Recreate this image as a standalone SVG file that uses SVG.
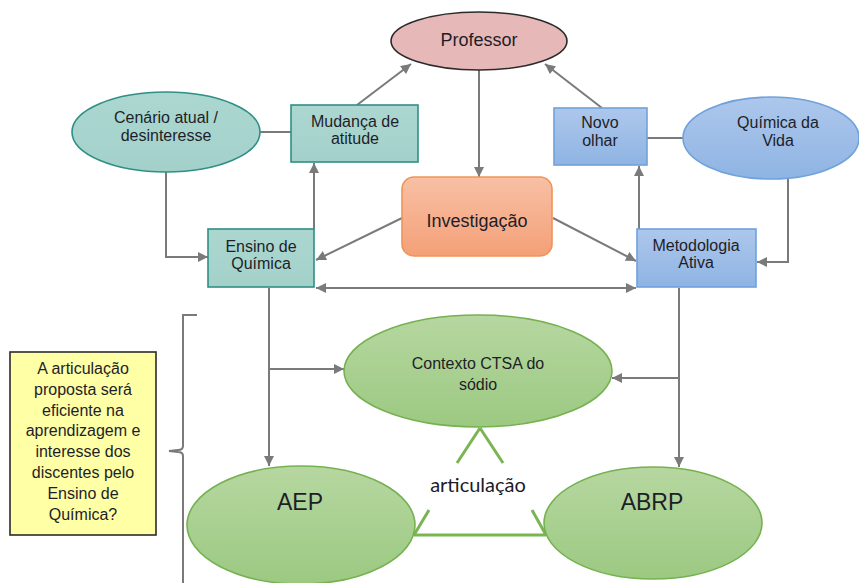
<svg xmlns="http://www.w3.org/2000/svg" width="859" height="583" viewBox="0 0 859 583">
  <defs>
    <linearGradient id="gTeal" x1="0" y1="0" x2="0" y2="1">
      <stop offset="0" stop-color="#acd7d1"/>
      <stop offset="1" stop-color="#a3d1ca"/>
    </linearGradient>
    <linearGradient id="gBlue" x1="0" y1="0" x2="0" y2="1">
      <stop offset="0" stop-color="#adc7ec"/>
      <stop offset="1" stop-color="#8fb4e3"/>
    </linearGradient>
    <linearGradient id="gGreen" x1="0" y1="0" x2="0" y2="1">
      <stop offset="0" stop-color="#b6d7a0"/>
      <stop offset="1" stop-color="#9cc982"/>
    </linearGradient>
    <linearGradient id="gOrange" x1="0" y1="0" x2="0" y2="1">
      <stop offset="0" stop-color="#f8c0a5"/>
      <stop offset="1" stop-color="#f4a077"/>
    </linearGradient>
    <marker id="arr" viewBox="0 0 10 10" refX="10" refY="5" markerWidth="11" markerHeight="10" markerUnits="userSpaceOnUse" orient="auto-start-reverse">
      <path d="M0,0 L10,5 L0,10 z" fill="#7a7a7a"/>
    </marker>
  </defs>
  <style>
    text { font-family: "Liberation Sans", Arial, sans-serif; fill: #1e1e28; text-anchor: middle; }
    .lbl { font-size: 16px; }
    .big { font-size: 18px; }
    .huge { font-size: 23px; }
    .teal { fill: url(#gTeal); stroke: #2f8f84; stroke-width: 1.6; }
    .blue { fill: url(#gBlue); stroke: #6fa2dc; stroke-width: 1.6; }
    .green { fill: url(#gGreen); stroke: #76b150; stroke-width: 1.6; }
    .conn { fill: none; stroke: #7a7a7a; stroke-width: 2; }
    .tri { fill: none; stroke: #79b552; stroke-width: 3; }
  </style>

  <rect width="859" height="583" fill="#ffffff"/>

  <!-- connectors -->
  <g id="connectors">
    <line class="conn" x1="479" y1="70" x2="479" y2="177" marker-end="url(#arr)"/>
    <line class="conn" x1="357" y1="105" x2="411" y2="64" marker-end="url(#arr)"/>
    <line class="conn" x1="602" y1="108" x2="545" y2="64" marker-end="url(#arr)"/>
    <line class="conn" x1="260" y1="132" x2="291" y2="132"/>
    <line class="conn" x1="647" y1="138" x2="683" y2="138"/>
    <polyline class="conn" points="166,172 166,257 208,257" marker-end="url(#arr)"/>
    <line class="conn" x1="314" y1="229" x2="314" y2="163" marker-end="url(#arr)"/>
    <line class="conn" x1="402" y1="218" x2="316" y2="260" marker-end="url(#arr)"/>
    <line class="conn" x1="553" y1="218" x2="636" y2="261" marker-end="url(#arr)"/>
    <line class="conn" x1="316" y1="288" x2="636" y2="288" marker-start="url(#arr)" marker-end="url(#arr)"/>
    <line class="conn" x1="639" y1="229" x2="639" y2="166" marker-end="url(#arr)"/>
    <polyline class="conn" points="788,178 788,262 757,262" marker-end="url(#arr)"/>
    <line class="conn" x1="269" y1="288" x2="269" y2="466" marker-end="url(#arr)"/>
    <line class="conn" x1="269" y1="369" x2="344" y2="369" marker-end="url(#arr)"/>
    <line class="conn" x1="679" y1="288" x2="679" y2="467" marker-end="url(#arr)"/>
    <line class="conn" x1="679" y1="378" x2="612" y2="378" marker-end="url(#arr)"/>
    <!-- brace -->
    <path class="conn" d="M197,315 L183,315 L183,446 Q183,450 178,450 L169,451 L178,452 Q183,452 183,456 L183,583" stroke="#8a8a8a"/>
  </g>

  <g id="professor">
    <ellipse cx="479" cy="41" rx="88" ry="29" fill="#e6b8b7" stroke="#2b2b2b" stroke-width="1.6"/>
    <text class="big" x="479" y="46">Professor</text>
  </g>

  <g id="cenario">
    <ellipse class="teal" cx="166" cy="132" rx="94" ry="40"/>
    <text class="lbl" x="166" y="123">Cenário atual /</text>
    <text class="lbl" x="166" y="141">desinteresse</text>
  </g>

  <g id="mudanca">
    <rect class="teal" x="291" y="105" width="127" height="57"/>
    <text class="lbl" x="355" y="127">Mudança de</text>
    <text class="lbl" x="355" y="144">atitude</text>
  </g>

  <g id="ensino">
    <rect class="teal" x="208" y="229" width="106" height="58"/>
    <text class="lbl" x="261" y="252">Ensino de</text>
    <text class="lbl" x="261" y="269">Química</text>
  </g>

  <g id="investigacao">
    <rect x="402" y="177" width="150" height="79" rx="12" fill="url(#gOrange)" stroke="#ef9459" stroke-width="1.6"/>
    <text class="big" x="477" y="227">Investigação</text>
  </g>

  <g id="novo-olhar">
    <rect class="blue" x="554" y="108" width="93" height="57"/>
    <text class="lbl" x="600" y="128">Novo</text>
    <text class="lbl" x="600" y="146">olhar</text>
  </g>

  <g id="quimica-vida">
    <ellipse class="blue" cx="771" cy="138" rx="88" ry="41"/>
    <text class="lbl" x="778" y="128">Química da</text>
    <text class="lbl" x="778" y="146">Vida</text>
  </g>

  <g id="metodologia">
    <rect class="blue" x="637" y="229" width="119" height="58"/>
    <text class="lbl" x="696" y="251">Metodologia</text>
    <text class="lbl" x="696" y="268">Ativa</text>
  </g>

  <g id="contexto">
    <ellipse class="green" cx="478" cy="371" rx="134" ry="56"/>
    <text class="lbl" x="478" y="369">Contexto CTSA do</text>
    <text class="lbl" x="478" y="390">sódio</text>
  </g>

  <g id="articulacao">
    <line class="tri" x1="480" y1="428" x2="457" y2="463"/>
    <line class="tri" x1="480" y1="428" x2="503" y2="463"/>
    <line class="tri" x1="429" y1="510" x2="414" y2="535"/>
    <line class="tri" x1="532" y1="510" x2="546" y2="535"/>
    <line class="tri" x1="414" y1="535" x2="546" y2="535"/>
    <text x="478" y="492" style="font-family: Lato, 'Open Sans', sans-serif; font-size: 20px; fill: #1a1a2a;">articulação</text>
  </g>

  <g id="aep">
    <ellipse class="green" cx="301" cy="525" rx="114" ry="59"/>
    <text class="huge" x="300" y="510">AEP</text>
  </g>

  <g id="abrp">
    <ellipse class="green" cx="653" cy="523" rx="109" ry="56"/>
    <text class="huge" x="652" y="510">ABRP</text>
  </g>

  <g id="pergunta">
    <rect x="10" y="352" width="146" height="183" fill="#ffffa6" stroke="#2b2b2b" stroke-width="1.6"/>
    <text class="lbl" x="83" y="374">A articulação</text>
    <text class="lbl" x="83" y="395">proposta será</text>
    <text class="lbl" x="83" y="416">eficiente na</text>
    <text class="lbl" x="83" y="436">aprendizagem e</text>
    <text class="lbl" x="83" y="457">interesse dos</text>
    <text class="lbl" x="83" y="478">discentes pelo</text>
    <text class="lbl" x="83" y="499">Ensino de</text>
    <text class="lbl" x="83" y="520">Química?</text>
  </g>
</svg>
